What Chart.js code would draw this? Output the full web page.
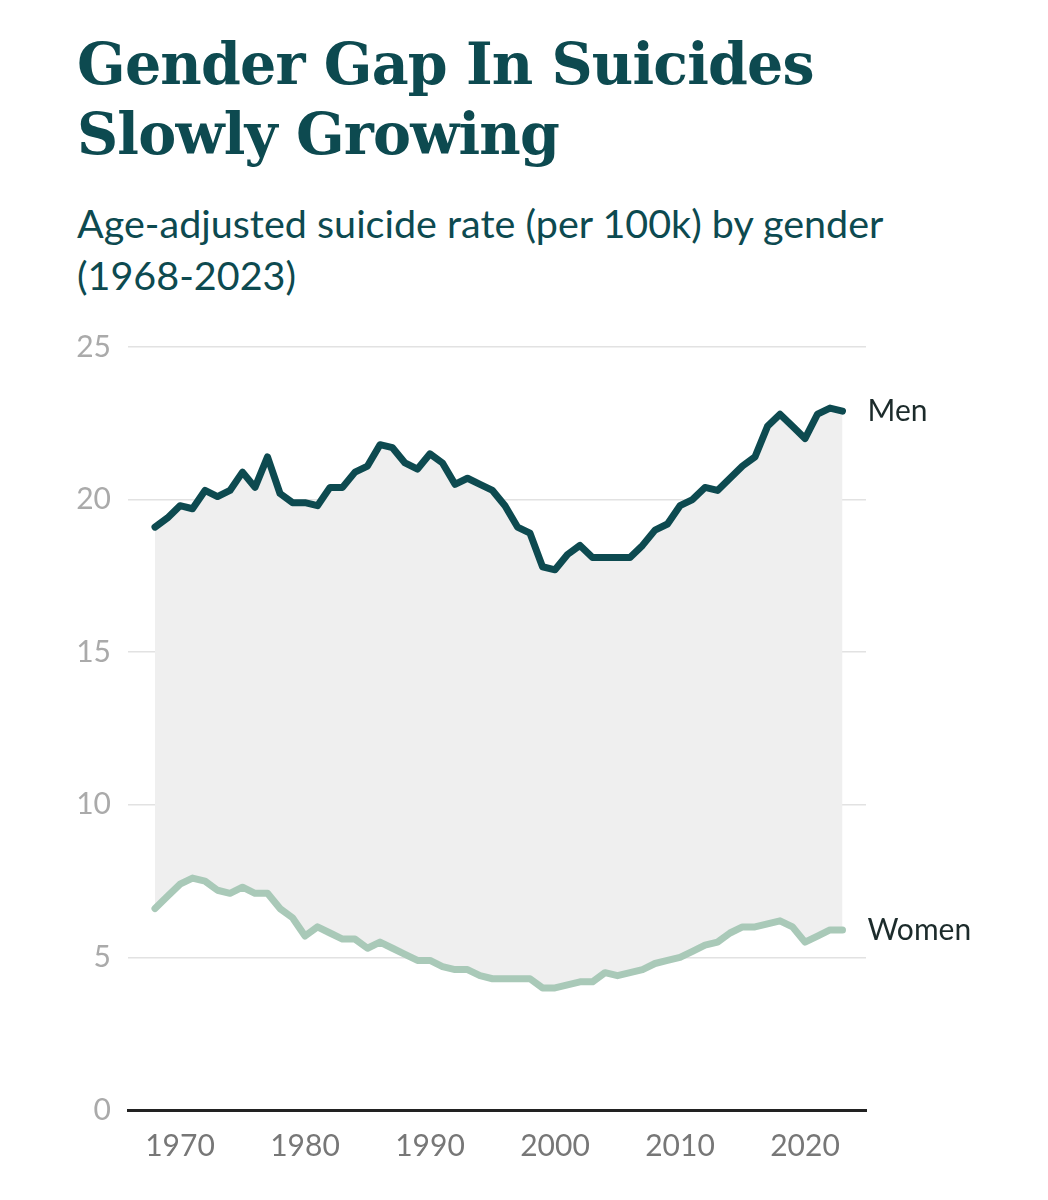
<!DOCTYPE html>
<html>
<head>
<meta charset="utf-8">
<script src="https://cdn.jsdelivr.net/npm/chart.js@4"></script>
<style>
  html, body { margin: 0; padding: 0; background: #fff; }
  #wrap { position: relative; width: 1048px; height: 1200px; }
  h1 {
    position: absolute; left: 77px; top: 29px; margin: 0;
    font-family: "DejaVu Serif", serif; font-weight: bold;
    font-size: 57px; line-height: 70px; color: #0d4a50; letter-spacing: -0.8px;
  }
  .sub {
    position: absolute; left: 77px; top: 197px; margin: 0;
    font-family: Lato, sans-serif; font-size: 39.5px; line-height: 52px; color: #0d4a50;
  }
  canvas { position: absolute; left: 0; top: 0; }
</style>
</head>
<body>
<div id="wrap">
  <h1>Gender Gap In Suicides<br>Slowly Growing</h1>
  <div class="sub">Age-adjusted suicide rate (per 100k) by gender<br>(1968-2023)</div>
  <canvas id="chart" width="1048" height="1200"></canvas>
</div>
<script>
const years = [];
for (let y = 1968; y <= 2023; y++) years.push(y);

const men = [
  19.1, 19.4, 19.8, 19.7, 20.3, 20.1, 20.3, 20.9, 20.4, 21.4,
  20.2, 19.9, 19.9, 19.8, 20.4, 20.4, 20.9, 21.1, 21.8, 21.7,
  21.2, 21.0, 21.5, 21.2, 20.5, 20.7, 20.5, 20.3, 19.8, 19.1,
  18.9, 17.8, 17.7, 18.2, 18.5, 18.1, 18.1, 18.1, 18.1, 18.5,
  19.0, 19.2, 19.8, 20.0, 20.4, 20.3, 20.7, 21.1, 21.4, 22.4,
  22.8, 22.4, 22.0, 22.8, 23.0, 22.9
];
const women = [
  6.6, 7.0, 7.4, 7.6, 7.5, 7.2, 7.1, 7.3, 7.1, 7.1,
  6.6, 6.3, 5.7, 6.0, 5.8, 5.6, 5.6, 5.3, 5.5, 5.3,
  5.1, 4.9, 4.9, 4.7, 4.6, 4.6, 4.4, 4.3, 4.3, 4.3,
  4.3, 4.0, 4.0, 4.1, 4.2, 4.2, 4.5, 4.4, 4.5, 4.6,
  4.8, 4.9, 5.0, 5.2, 5.4, 5.5, 5.8, 6.0, 6.0, 6.1,
  6.2, 6.0, 5.5, 5.7, 5.9, 5.9
];
const xTicks = [1970, 1980, 1990, 2000, 2010, 2020];
const yTicks = [0, 5, 10, 15, 20, 25];
const seriesNames = ['Men', 'Women'];
const seriesColors = ['#0d4a50', '#a9c9b8'];

// end labels next to the last point of each line
const endLabels = {
  id: 'endLabels',
  afterDatasetsDraw(chart) {
    const ctx = chart.ctx;
    ctx.save();
    ctx.font = '30px Lato';
    ctx.fillStyle = '#1c2b2b';
    ctx.textBaseline = 'middle';
    chart.data.datasets.forEach((ds, i) => {
      const pts = chart.getDatasetMeta(i).data;
      const last = pts[pts.length - 1];
      ctx.fillText(seriesNames[i], last.x + 25, last.y);
    });
    ctx.restore();
  }
};

new Chart(document.getElementById('chart'), {
  type: 'line',
  data: {
    datasets: [
      {
        label: seriesNames[0],
        data: years.map((y, i) => ({ x: y, y: men[i] })),
        borderColor: seriesColors[0],
        backgroundColor: '#efefef',
        borderWidth: 7,
        fill: '+1',
        pointRadius: 0,
        borderJoinStyle: 'round',
        borderCapStyle: 'round',
        tension: 0
      },
      {
        label: seriesNames[1],
        data: years.map((y, i) => ({ x: y, y: women[i] })),
        borderColor: seriesColors[1],
        borderWidth: 7,
        fill: false,
        pointRadius: 0,
        borderJoinStyle: 'round',
        borderCapStyle: 'round',
        tension: 0
      }
    ]
  },
  options: {
    responsive: false,
    animation: false,
    layout: { padding: { top: 347, right: 182, left: 0, bottom: 0 } },
    plugins: {
      legend: { display: false },
      tooltip: { enabled: false },
      filler: { drawTime: 'beforeDatasetsDraw' }
    },
    scales: {
      x: {
        type: 'linear',
        min: 1965.84,
        max: 2024.88,
        afterBuildTicks: (s) => { s.ticks = xTicks.map(v => ({ value: v })); },
        afterFit: (s) => { s.height = 90; },
        grid: { display: false },
        border: { display: true, color: '#222', width: 3 },
        ticks: {
          padding: 10,
          color: '#777',
          font: { family: 'Lato', size: 30 },
          callback: (v) => String(v)
        }
      },
      y: {
        min: 0,
        max: 25,
        afterBuildTicks: (s) => { s.ticks = yTicks.map(v => ({ value: v })); },
        afterFit: (s) => { s.width = 128; },
        grid: { color: '#e2e2e2', lineWidth: 1.5, drawTicks: false },
        border: { display: false },
        ticks: {
          padding: 17,
          color: '#aaa',
          font: { family: 'Lato', size: 30 }
        }
      }
    }
  },
  plugins: [endLabels]
});
</script>
</body>
</html>
